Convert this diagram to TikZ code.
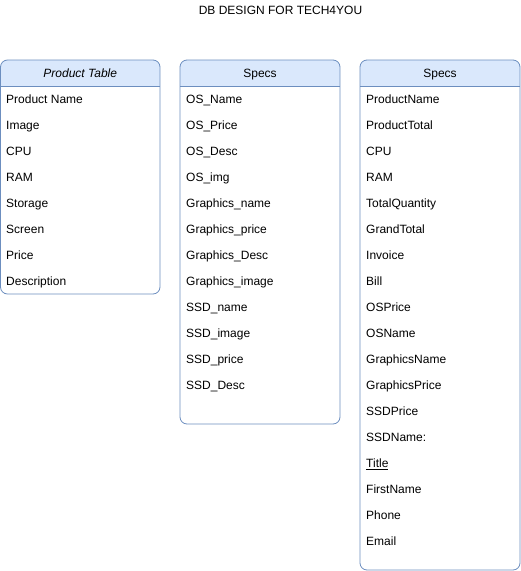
\documentclass[tikz,border=0pt]{standalone}
\usepackage{fontspec}
\setmainfont{Liberation Sans}
\definecolor{dbhead}{HTML}{DAE8FC}
\definecolor{dbline}{HTML}{6C8EBF}

\begin{document}
\begin{tikzpicture}[
  x=1pt, y=-1pt,
  font=\fontsize{12}{14}\selectfont,
  tbox/.style={draw=dbline, line width=0.8pt, rounded corners=7pt},
  tsep/.style={draw=dbline, line width=0.8pt},
  tname/.style={anchor=base, inner sep=0pt, text=black},
  field/.style={anchor=base west, inner sep=0pt, text=black},
]
  \useasboundingbox (0,0) rectangle (521,571);

  % title
  \node[tname] (title) at (280.5,14.3) {DB DESIGN FOR TECH4YOU};

  % table frames, header bands clipped to the rounded frame
  \foreach \xa/\xb/\yb in {0.5/160/294, 180/340/424, 360/520/570} {
    \begin{scope}
      \clip[rounded corners=7pt] (\xa,60) rectangle (\xb,\yb);
      \fill[dbhead] (\xa,60) rectangle (\xb,86);
    \end{scope}
    \draw[tsep] (\xa,86) -- (\xb,86);
    \draw[tbox] (\xa,60) rectangle (\xb,\yb);
  }

  % table names
  \node[tname] (prodhead) at (80.25,77.3) {\itshape Product Table};
  \node[tname] (spechead) at (260,77.3) {Specs};
  \node[tname] (orderhead) at (440,77.3) {Specs};

  % fields
  \foreach \f [count=\i] in {Product Name, Image, CPU, RAM, Storage, Screen, Price, Description}
    \node[field] (prod\i) at (6,77.3+26*\i) {\f};
  \foreach \f [count=\i] in {OS\_Name, OS\_Price, OS\_Desc, OS\_img, Graphics\_name, Graphics\_price,
      Graphics\_Desc, Graphics\_image, SSD\_name, SSD\_image, SSD\_price, SSD\_Desc}
    \node[field] (spec\i) at (186,77.3+26*\i) {\f};
  \foreach \f [count=\i] in {ProductName, ProductTotal, CPU, RAM, TotalQuantity, GrandTotal, Invoice,
      Bill, OSPrice, OSName, GraphicsName, GraphicsPrice, SSDPrice, SSDName:, {\underline{Title}},
      FirstName, Phone, Email}
    \node[field] (order\i) at (366,77.3+26*\i) {\f};
\end{tikzpicture}
\end{document}
